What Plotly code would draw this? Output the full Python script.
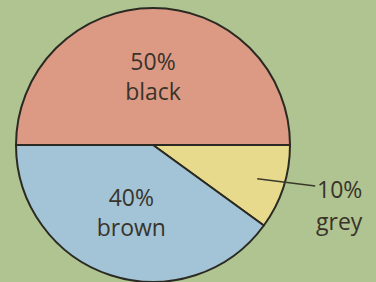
import math
import plotly.graph_objects as go

labels = ["black", "grey", "brown"]
values = [50, 10, 40]
colors = ["#dc9a85", "#e7da8c", "#a2c4d6"]
text_pos = ["inside", "none", "inside"]

W, H = 376, 282
dom_x = [16 / W, 290 / W]
dom_y = [0.0, 0.972]
bg = "#afc491"
txt = "#3a332b"
font = "Open Sans"

fig = go.Figure(go.Pie(
    labels=labels,
    values=values,
    sort=False,
    direction="clockwise",
    rotation=-90,
    marker=dict(colors=colors, line=dict(color="#2b2a22", width=2)),
    texttemplate=["%{percent:.0%}<br>%{label}" if p != "none" else "" for p in text_pos],
    textposition=["inside" if p != "none" else "none" for p in text_pos],
    insidetextorientation="horizontal",
    textfont=dict(family=font, size=23, color=txt),
    domain=dict(x=dom_x, y=dom_y),
    showlegend=False,
    hoverinfo="skip",
))

# label for the small slice with a leader line
total = sum(values)
r_px = min((dom_x[1] - dom_x[0]) * W, (dom_y[1] - dom_y[0]) * H) / 2
cx = (dom_x[0] + dom_x[1]) / 2
cy = (dom_y[0] + dom_y[1]) / 2
angles = {}
ang = 180.0  # rotation -90 => first slice starts at 9 o'clock
for lab, v in zip(labels, values):
    span = v / total * 360
    angles[lab] = ang - span / 2
    ang -= span
mid = math.radians(angles["grey"])
px = cx + 0.8 * r_px * math.cos(mid) / W
py = cy + 0.8 * r_px * math.sin(mid) / H
pct = round(values[labels.index("grey")] / total * 100)
fig.add_annotation(x=px, y=py, xref="paper", yref="paper",
                   text=f"{pct}%", showarrow=True, arrowhead=0,
                   arrowwidth=1.5, arrowcolor="#3a3a2a",
                   ax=82, ay=10,
                   font=dict(family=font, size=23, color=txt))
fig.add_annotation(x=px, y=py, xref="paper", yref="paper",
                   text="grey", showarrow=True, arrowwidth=0.1,
                   arrowcolor="rgba(0,0,0,0)",
                   ax=82, ay=42,
                   font=dict(family=font, size=23, color=txt))

fig.update_layout(
    width=W, height=H,
    margin=dict(l=0, r=0, t=0, b=0),
    paper_bgcolor=bg, plot_bgcolor=bg,
)
fig.write_html("out.html", config={"displayModeBar": False},
               post_script="document.body.style.margin='0';document.body.style.overflow='hidden';")
